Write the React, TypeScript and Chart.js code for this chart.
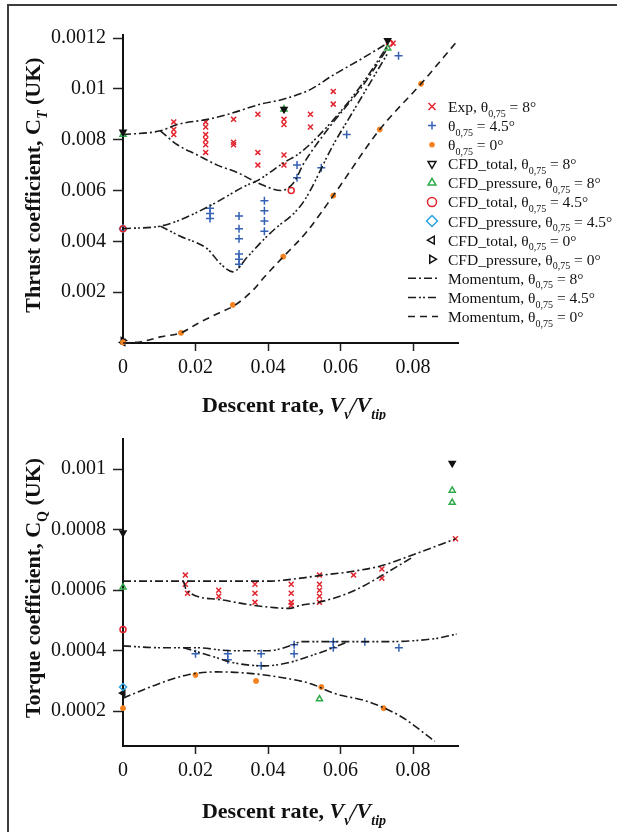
import React, { useEffect, useRef } from 'react';
import { Chart, registerables } from 'chart.js';

Chart.register(...registerables);

type P = [number, number];

// ===== Shared x axis (descent rate) =====
const xTickValues = [0, 0.02, 0.04, 0.06, 0.08];
const xTickLabels = ['0', '0.02', '0.04', '0.06', '0.08'];

// ===== Top chart: thrust coefficient C_T =====
const ctTickValues = [0.002, 0.004, 0.006, 0.008, 0.01, 0.012];
const ctTickLabels = ['0.002', '0.004', '0.006', '0.008', '0.01', '0.0012'];

const ctMom8Upper: P[] = [[0, 0.0082], [0.0103, 0.00835], [0.015, 0.0086], [0.0233, 0.0088], [0.029, 0.009], [0.038, 0.0094], [0.0444, 0.0096], [0.052, 0.01], [0.0575, 0.0105], [0.066, 0.0112], [0.073, 0.0118]];
const ctMom8Lower: P[] = [[0.0103, 0.00835], [0.015, 0.0078], [0.0205, 0.0074], [0.026, 0.007], [0.0317, 0.0067], [0.0372, 0.0063], [0.0436, 0.006], [0.047, 0.0063], [0.05, 0.0071], [0.0575, 0.0086], [0.066, 0.0101], [0.073, 0.0116]];
const ctMom45Upper: P[] = [[0, 0.0045], [0.0103, 0.0046], [0.015, 0.0048], [0.024, 0.0054], [0.034, 0.0062], [0.0372, 0.0064], [0.0444, 0.0071], [0.049, 0.0075], [0.0575, 0.0087], [0.066, 0.0102], [0.073, 0.0117]];
const ctMom45Lower: P[] = [[0.0103, 0.0046], [0.0158, 0.0042], [0.0233, 0.0037], [0.027, 0.0031], [0.0303, 0.0028], [0.0344, 0.0034], [0.039, 0.0041], [0.0428, 0.0046], [0.0464, 0.005], [0.05, 0.0056], [0.058, 0.0078], [0.063, 0.009], [0.068, 0.0102], [0.073, 0.0114]];
const ctMom0: P[] = [[0, 0], [0.005, 0.00005], [0.0103, 0.00024], [0.016, 0.0004], [0.0205, 0.00076], [0.026, 0.00115], [0.031, 0.0015], [0.036, 0.0021], [0.039, 0.0026], [0.0436, 0.0033], [0.0508, 0.0044], [0.058, 0.0058], [0.0708, 0.0084], [0.0822, 0.0102], [0.0917, 0.0118]];

const ctExp8: P[] = [
  [0.014, 0.0087], [0.014, 0.0084], [0.014, 0.0082],
  [0.0228, 0.0087], [0.0228, 0.0085], [0.0228, 0.0082], [0.0228, 0.008], [0.0228, 0.0078], [0.0228, 0.0075],
  [0.0305, 0.0088], [0.0305, 0.0079], [0.0305, 0.0078],
  [0.0372, 0.009], [0.0372, 0.0075], [0.0372, 0.007],
  [0.0444, 0.0088], [0.0444, 0.0086], [0.0444, 0.0074], [0.0444, 0.007],
  [0.0517, 0.009], [0.0517, 0.0085],
  [0.058, 0.0099], [0.058, 0.0094],
  [0.0745, 0.0118],
];
const ctExp45: P[] = [
  [0.024, 0.0053], [0.024, 0.0051], [0.024, 0.0049],
  [0.032, 0.005], [0.032, 0.0045], [0.032, 0.0041], [0.032, 0.0035], [0.032, 0.0033], [0.032, 0.0031],
  [0.039, 0.0056], [0.039, 0.0052], [0.039, 0.0048], [0.039, 0.0044],
  [0.048, 0.007], [0.048, 0.0065],
  [0.0547, 0.0069], [0.0617, 0.0082], [0.076, 0.0113],
];
const ctExp0: P[] = [[0, 0.00003], [0.016, 0.0004], [0.0303, 0.0015], [0.0442, 0.0034], [0.058, 0.0058], [0.0708, 0.0084], [0.0822, 0.0102]];
const ctCfdTotal8: P[] = [[0, 0.0083], [0.0444, 0.0092], [0.073, 0.0119]];
const ctCfdPressure8: P[] = [[0, 0.0082], [0.0444, 0.0092], [0.073, 0.0116]];
const ctCfdTotal45: P[] = [[0, 0.0045], [0.0464, 0.006], [0.0735, 0.0118]];
const ctCfdPressure45: P[] = [[0, 0.0045]];
const ctCfdTotal0: P[] = [[0, 0.00002]];
const ctCfdPressure0: P[] = [[0, 0.0001]];

// ===== Bottom chart: torque coefficient C_Q =====
const cqTickValues = [0.0002, 0.0004, 0.0006, 0.0008, 0.001];
const cqTickLabels = ['0.0002', '0.0004', '0.0006', '0.0008', '0.001'];

const cqMom8Upper: P[] = [[0, 0.00063], [0.01, 0.00063], [0.02, 0.00063], [0.03, 0.00063], [0.04, 0.00063], [0.049, 0.00064], [0.055, 0.00065], [0.062, 0.00066], [0.071, 0.00068], [0.0806, 0.00072], [0.0917, 0.00077]];
const cqMom8Lower: P[] = [[0.0167, 0.00063], [0.0175, 0.0006], [0.026, 0.00057], [0.036, 0.00055], [0.046, 0.00054], [0.049, 0.00055], [0.054, 0.00056], [0.064, 0.0006], [0.073, 0.00066], [0.08, 0.00071]];
const cqMom45Upper: P[] = [[0, 0.000416], [0.01, 0.00041], [0.02, 0.00041], [0.03, 0.0004], [0.04, 0.0004], [0.047, 0.00042], [0.049, 0.00043], [0.058, 0.00043], [0.072, 0.00043], [0.086, 0.00044], [0.092, 0.000455]];
const cqMom45Lower: P[] = [[0.0167, 0.00041], [0.025, 0.00038], [0.0306, 0.00036], [0.039, 0.00035], [0.0455, 0.00036], [0.051, 0.00038], [0.058, 0.00041], [0.062, 0.00043]];
const cqMom0: P[] = [[0, 0.000243], [0.0075, 0.00028], [0.0177, 0.00032], [0.026, 0.00033], [0.035, 0.000325], [0.0445, 0.00031], [0.052, 0.00029], [0.058, 0.00026], [0.068, 0.00023], [0.077, 0.00018], [0.0844, 0.000115], [0.086, 0.0001]];

const cqExp8: P[] = [
  [0.0172, 0.00065], [0.0172, 0.00062], [0.0178, 0.00059],
  [0.0264, 0.0006], [0.0264, 0.00058],
  [0.0364, 0.00062], [0.0364, 0.00059], [0.0364, 0.00056],
  [0.0464, 0.00062], [0.0464, 0.00059], [0.0464, 0.00056], [0.0464, 0.00055],
  [0.0542, 0.00065], [0.0542, 0.00062], [0.0542, 0.0006], [0.0542, 0.00058], [0.0542, 0.00056],
  [0.0636, 0.00065], [0.0714, 0.00067], [0.0714, 0.00064], [0.0917, 0.00077],
];
const cqExp45: P[] = [[0.02, 0.00039], [0.0289, 0.00039], [0.0289, 0.00037], [0.0381, 0.00039], [0.0381, 0.00035], [0.0472, 0.00042], [0.0472, 0.00039], [0.058, 0.00043], [0.058, 0.00041], [0.0667, 0.00043], [0.0761, 0.00041]];
const cqExp0: P[] = [[0, 0.00021], [0.02, 0.00032], [0.0367, 0.0003], [0.0547, 0.00028], [0.0719, 0.00021]];
const cqCfdTotal8: P[] = [[0, 0.00079], [0.0908, 0.00102]];
const cqCfdPressure8: P[] = [[0, 0.00061], [0.0542, 0.00024], [0.0908, 0.00093], [0.0908, 0.00089]];
const cqCfdTotal45: P[] = [[0, 0.00047]];
const cqCfdPressure45: P[] = [[0, 0.00028]];
const cqCfdTotal0: P[] = [[0, 0.00026]];

// ===== Text =====
type Run = { t: string; sub?: boolean; it?: boolean };
const ctYTitle: Run[] = [{ t: 'Thrust coefficient, C' }, { t: 'T', sub: true, it: true }, { t: ' (UK)' }];
const cqYTitle: Run[] = [{ t: 'Torque coefficient, C' }, { t: 'Q', sub: true }, { t: ' (UK)' }];
const xTitle: Run[] = [{ t: 'Descent rate, ' }, { t: 'V', it: true }, { t: 'v', sub: true, it: true }, { t: '/', it: true }, { t: 'V', it: true }, { t: 'tip', sub: true, it: true }];

type Kind = 'x' | 'plus' | 'dot' | 'triDown' | 'triUp' | 'circle' | 'diamond' | 'triLeft' | 'triRight' | 'm8' | 'm45' | 'm0';
const legendPrefixes = ['Exp, θ', 'θ', 'θ', 'CFD_total, θ', 'CFD_pressure, θ', 'CFD_total, θ', 'CFD_pressure, θ', 'CFD_total, θ', 'CFD_pressure, θ', 'Momentum, θ', 'Momentum, θ', 'Momentum, θ'];
const legendAngles = ['8°', '4.5°', '0°', '8°', '8°', '4.5°', '4.5°', '0°', '0°', '8°', '4.5°', '0°'];
const legendKinds: Kind[] = ['x', 'plus', 'dot', 'triDown', 'triUp', 'circle', 'diamond', 'triLeft', 'triRight', 'm8', 'm45', 'm0'];
const thetaSub = '0,75';

// ===== Styles =====
const SERIF = '"Liberation Serif", "Times New Roman", Times, serif';
const RED = '#e3242e';
const BLUE = '#3461b4';
const ORANGE = '#f5821f';
const GREEN = '#2faa4a';
const CYAN = '#2aa3e0';
const BLACK = '#111111';
const LINE = '#1c1c1c';
const DASH: Record<string, number[]> = { m8: [8, 3, 2, 3], m45: [8, 3, 2, 2, 2, 3], m0: [7, 5] };
const MARK: Record<string, { color: string; style: string; rot: number; r: number; fill: string; w: number }> = {
  x: { color: RED, style: 'crossRot', rot: 0, r: 3.5, fill: RED, w: 1.5 },
  plus: { color: BLUE, style: 'cross', rot: 0, r: 4, fill: BLUE, w: 1.5 },
  dot: { color: ORANGE, style: 'circle', rot: 0, r: 2.5, fill: ORANGE, w: 1 },
  triDown: { color: BLACK, style: 'triangle', rot: 180, r: 3.5, fill: BLACK, w: 1.5 },
  triUp: { color: GREEN, style: 'triangle', rot: 0, r: 3.5, fill: 'rgba(255,255,255,0)', w: 1.5 },
  circle: { color: RED, style: 'circle', rot: 0, r: 3, fill: 'rgba(255,255,255,0)', w: 1.5 },
  diamond: { color: CYAN, style: 'rectRot', rot: 0, r: 3.5, fill: 'rgba(255,255,255,0)', w: 1.5 },
  triLeft: { color: BLACK, style: 'triangle', rot: -90, r: 3.5, fill: BLACK, w: 1.5 },
  triRight: { color: BLACK, style: 'triangle', rot: 90, r: 3.5, fill: 'rgba(255,255,255,0)', w: 1.5 },
};

function pointDs(label: string, data: P[], kind: Kind) {
  const s = MARK[kind];
  return {
    label,
    data: data.map(([x, y]) => ({ x, y })),
    showLine: false,
    pointStyle: s.style,
    pointRotation: s.rot,
    pointRadius: s.r,
    pointBorderColor: s.color,
    pointBackgroundColor: s.fill,
    pointBorderWidth: s.w,
    clip: false,
  };
}
function lineDs(label: string, data: P[], kind: Kind) {
  return {
    label,
    data: data.map(([x, y]) => ({ x, y })),
    showLine: true,
    borderColor: LINE,
    borderWidth: 1.6,
    borderDash: DASH[kind],
    pointRadius: 0,
    fill: false,
    cubicInterpolationMode: 'monotone',
    clip: false,
  };
}

function drawRuns(ctx: CanvasRenderingContext2D, runs: Run[], x: number, y: number, size: number, bold: boolean, align: 'left' | 'center', color: string) {
  const font = (r: Run) => `${r.it ? 'italic ' : ''}${bold ? 'bold ' : ''}${r.sub ? Math.round(size * 0.64) : size}px ${SERIF}`;
  let total = 0;
  const widths = runs.map((r) => {
    ctx.font = font(r);
    const w = ctx.measureText(r.t).width;
    total += w;
    return w;
  });
  let cx = align === 'center' ? x - total / 2 : x;
  ctx.fillStyle = color;
  ctx.textAlign = 'left';
  ctx.textBaseline = 'alphabetic';
  runs.forEach((r, i) => {
    ctx.font = font(r);
    ctx.fillText(r.t, cx, y + (r.sub ? size * 0.3 : 0));
    cx += widths[i];
  });
}

function drawSymbol(ctx: CanvasRenderingContext2D, kind: Kind, x: number, y: number) {
  ctx.save();
  ctx.lineWidth = 1.5;
  if (kind === 'm8' || kind === 'm45' || kind === 'm0') {
    ctx.strokeStyle = LINE;
    ctx.setLineDash(DASH[kind]);
    ctx.beginPath();
    ctx.moveTo(x - 24, y);
    ctx.lineTo(x + 6, y);
    ctx.stroke();
    ctx.restore();
    return;
  }
  const s = MARK[kind];
  ctx.strokeStyle = s.color;
  ctx.fillStyle = s.color;
  const r = 4.5;
  ctx.beginPath();
  if (kind === 'x') {
    ctx.moveTo(x - 3.5, y - 3.5); ctx.lineTo(x + 3.5, y + 3.5);
    ctx.moveTo(x - 3.5, y + 3.5); ctx.lineTo(x + 3.5, y - 3.5);
    ctx.stroke();
  } else if (kind === 'plus') {
    ctx.moveTo(x - 4, y); ctx.lineTo(x + 4, y);
    ctx.moveTo(x, y - 4); ctx.lineTo(x, y + 4);
    ctx.stroke();
  } else if (kind === 'dot') {
    ctx.arc(x, y, 2.8, 0, Math.PI * 2);
    ctx.fill();
  } else if (kind === 'circle') {
    ctx.arc(x, y, 4.5, 0, Math.PI * 2);
    ctx.stroke();
  } else if (kind === 'diamond') {
    ctx.moveTo(x, y - 5.5); ctx.lineTo(x + 5.5, y); ctx.lineTo(x, y + 5.5); ctx.lineTo(x - 5.5, y); ctx.closePath();
    ctx.stroke();
  } else {
    const rot = kind === 'triUp' ? 0 : kind === 'triDown' ? 180 : kind === 'triLeft' ? -90 : 90;
    ctx.translate(x, y);
    ctx.rotate((rot * Math.PI) / 180);
    ctx.moveTo(0, -r); ctx.lineTo(r * 0.87, r * 0.5); ctx.lineTo(-r * 0.87, r * 0.5); ctx.closePath();
    ctx.stroke();
  }
  ctx.restore();
}

function makeOptions(yMin: number, yMax: number, yTicks: number[], yLabels: string[], padTop: number, canvasH: number, axisY: number) {
  const tickFont = { family: SERIF, size: 20 };
  return {
    responsive: false,
    animation: false,
    events: [],
    layout: { padding: { left: 0, right: 159, top: padTop, bottom: 0 } },
    plugins: { legend: { display: false }, tooltip: { enabled: false } },
    scales: {
      x: {
        type: 'linear',
        min: 0,
        max: 0.0924,
        afterBuildTicks: (s: any) => { s.ticks = xTickValues.map((v) => ({ value: v })); },
        afterFit: (s: any) => { s.height = canvasH - axisY; },
        ticks: { callback: (_v: any, i: number) => xTickLabels[i], font: tickFont, color: '#111', padding: 5, maxRotation: 0, autoSkip: false },
        grid: { drawOnChartArea: false, drawTicks: true, tickLength: 8, tickWidth: 1.5, tickColor: (c: any) => (c.tick && c.tick.value === 0 ? 'rgba(0,0,0,0)' : '#222') },
        border: { display: true, color: '#111', width: 2 },
      },
      y: {
        type: 'linear',
        min: yMin,
        max: yMax,
        afterBuildTicks: (s: any) => { s.ticks = yTicks.map((v) => ({ value: v })); },
        afterFit: (s: any) => { s.width = 123; },
        ticks: { callback: (_v: any, i: number) => yLabels[i], font: tickFont, color: '#111', padding: 7, autoSkip: false },
        grid: { drawOnChartArea: false, drawTicks: true, tickLength: 10, tickWidth: 1.5, tickColor: '#222' },
        border: { display: true, color: '#111', width: 2 },
      },
    },
  };
}

const TOP_H = 420;
const BOT_H = 412;

function topConfig(): any {
  const decor = {
    id: 'topDecor',
    afterDraw(chart: any) {
      const ctx: CanvasRenderingContext2D = chart.ctx;
      ctx.save();
      ctx.translate(40, 185);
      ctx.rotate(-Math.PI / 2);
      drawRuns(ctx, ctYTitle, 0, 0, 22, true, 'center', '#111');
      ctx.restore();
      ctx.save();
      drawRuns(ctx, xTitle, 294, 412, 22, true, 'center', '#111');
      legendKinds.forEach((k, i) => {
        const base = 112 + i * 19.09;
        drawSymbol(ctx, k, 432, base - 5.5);
        drawRuns(ctx, [{ t: legendPrefixes[i] }, { t: thetaSub, sub: true }, { t: ' = ' + legendAngles[i] }], 448, base, 15.5, false, 'left', '#111');
      });
      ctx.restore();
    },
  };
  return {
    type: 'scatter',
    data: {
      datasets: [
        lineDs('Momentum 8° upper', ctMom8Upper, 'm8'),
        lineDs('Momentum 8° lower', ctMom8Lower, 'm8'),
        lineDs('Momentum 4.5° upper', ctMom45Upper, 'm45'),
        lineDs('Momentum 4.5° lower', ctMom45Lower, 'm45'),
        lineDs('Momentum 0°', ctMom0, 'm0'),
        pointDs('Exp 8°', ctExp8, 'x'),
        pointDs('Exp 4.5°', ctExp45, 'plus'),
        pointDs('Exp 0°', ctExp0, 'dot'),
        pointDs('CFD_total 8°', ctCfdTotal8, 'triDown'),
        pointDs('CFD_pressure 8°', ctCfdPressure8, 'triUp'),
        pointDs('CFD_total 4.5°', ctCfdTotal45, 'circle'),
        pointDs('CFD_pressure 4.5°', ctCfdPressure45, 'diamond'),
        pointDs('CFD_total 0°', ctCfdTotal0, 'triLeft'),
        pointDs('CFD_pressure 0°', ctCfdPressure0, 'triRight'),
      ],
    },
    options: makeOptions(0, 0.01212, ctTickValues, ctTickLabels, 35, TOP_H, 343),
    plugins: [decor],
  };
}

function botConfig(): any {
  const offset = TOP_H;
  const decor = {
    id: 'botDecor',
    afterDraw(chart: any) {
      const ctx: CanvasRenderingContext2D = chart.ctx;
      ctx.save();
      ctx.translate(40, 588 - offset);
      ctx.rotate(-Math.PI / 2);
      drawRuns(ctx, cqYTitle, 0, 0, 22, true, 'center', '#111');
      ctx.restore();
      ctx.save();
      drawRuns(ctx, xTitle, 294, 818 - offset, 22, true, 'center', '#111');
      ctx.restore();
    },
  };
  return {
    type: 'scatter',
    data: {
      datasets: [
        lineDs('Momentum 8° upper', cqMom8Upper, 'm8'),
        lineDs('Momentum 8° lower', cqMom8Lower, 'm8'),
        lineDs('Momentum 4.5° upper', cqMom45Upper, 'm45'),
        lineDs('Momentum 4.5° lower', cqMom45Lower, 'm45'),
        lineDs('Momentum 0°', cqMom0, 'm8'),
        pointDs('Exp 8°', cqExp8, 'x'),
        pointDs('Exp 4.5°', cqExp45, 'plus'),
        pointDs('Exp 0°', cqExp0, 'dot'),
        pointDs('CFD_total 8°', cqCfdTotal8, 'triDown'),
        pointDs('CFD_pressure 8°', cqCfdPressure8, 'triUp'),
        pointDs('CFD_total 4.5°', cqCfdTotal45, 'circle'),
        pointDs('CFD_pressure 4.5°', cqCfdPressure45, 'diamond'),
        pointDs('CFD_total 0°', cqCfdTotal0, 'triLeft'),
      ],
    },
    options: makeOptions(0.000085, 0.0011, cqTickValues, cqTickLabels, 438 - offset, BOT_H, 746 - offset),
    plugins: [decor],
  };
}

export default function App() {
  const topRef = useRef<HTMLCanvasElement>(null);
  const botRef = useRef<HTMLCanvasElement>(null);
  useEffect(() => {
    const c1 = new Chart(topRef.current as HTMLCanvasElement, topConfig());
    const c2 = new Chart(botRef.current as HTMLCanvasElement, botConfig());
    return () => {
      c1.destroy();
      c2.destroy();
    };
  }, []);
  return (
    <div style={{ position: 'absolute', left: 0, top: 0, width: 617, height: 832, background: '#fff', overflow: 'hidden' }}>
      <div style={{ position: 'absolute', left: 7, top: 4, width: 610, height: 2, background: '#3c3c3c' }} />
      <div style={{ position: 'absolute', left: 7, top: 4, width: 2, height: 828, background: '#3c3c3c' }} />
      <canvas ref={topRef} width={617} height={TOP_H} style={{ position: 'absolute', left: 0, top: 0, width: 617, height: TOP_H }} />
      <canvas ref={botRef} width={617} height={BOT_H} style={{ position: 'absolute', left: 0, top: TOP_H, width: 617, height: BOT_H }} />
    </div>
  );
}
